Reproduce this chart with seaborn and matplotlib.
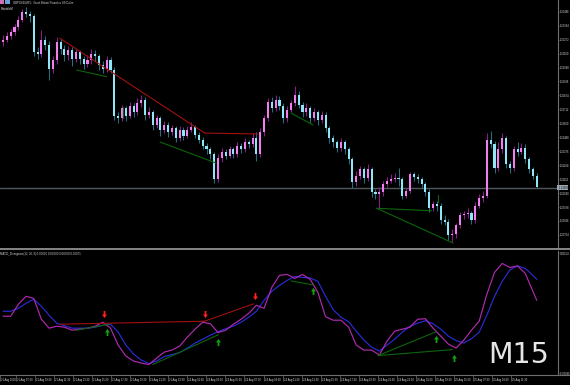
import numpy as np
import pandas as pd
import matplotlib
matplotlib.use("Agg")
import matplotlib.pyplot as plt
import matplotlib.transforms as mtrans
from matplotlib.patches import Rectangle
from matplotlib.lines import Line2D
import seaborn as sns

# ---------------- data ----------------
symbol_title = "GBPUSD,M15:  Great Britain Pound vs US Dollar"
ea_label = "MovableM"
indicator_title = "MACD_Divergence(12, 26, 9) 0.00000 0.00000 0.00000 0.00071"
timeframe_label = "M15"

first_open = 1.3225
closes = [1.3227, 1.3230, 1.3233, 1.3237, 1.3243, 1.3249, 1.3248, 1.3246, 1.3217, 1.3216,
          1.3227, 1.3223, 1.3204, 1.3211, 1.3225, 1.3220, 1.3215, 1.3219, 1.3212, 1.3217,
          1.3212, 1.3208, 1.3211, 1.3216, 1.3214, 1.3207, 1.3204, 1.3211, 1.3203, 1.3166,
          1.3164, 1.3172, 1.3166, 1.3174, 1.3169, 1.3176, 1.3179, 1.3167, 1.3169, 1.3159,
          1.3164, 1.3155, 1.3159, 1.3153, 1.3156, 1.3148, 1.3155, 1.3150, 1.3155, 1.3157,
          1.3151, 1.3147, 1.3142, 1.3139, 1.3135, 1.3115, 1.3132, 1.3137, 1.3134, 1.3139,
          1.3135, 1.3142, 1.3139, 1.3145, 1.3143, 1.3148, 1.3135, 1.3153, 1.3164, 1.3177,
          1.3172, 1.3179, 1.3174, 1.3164, 1.3171, 1.3176, 1.3183, 1.3175, 1.3169, 1.3172,
          1.3164, 1.3169, 1.3163, 1.3167, 1.3156, 1.3148, 1.3145, 1.3140, 1.3145, 1.3139,
          1.3131, 1.3113, 1.3118, 1.3123, 1.3116, 1.3123, 1.3105, 1.3103, 1.3105, 1.3111,
          1.3114, 1.3115, 1.3116, 1.3115, 1.3102, 1.3106, 1.3119, 1.3117, 1.3115, 1.3111,
          1.3105, 1.3092, 1.3095, 1.3094, 1.3082, 1.3081, 1.3070, 1.3071, 1.3078, 1.3086,
          1.3087, 1.3088, 1.3082, 1.3094, 1.3100, 1.3102, 1.3147, 1.3143, 1.3124, 1.3139,
          1.3148, 1.3127, 1.3124, 1.3139, 1.3137, 1.3140, 1.3131, 1.3123, 1.3118, 1.3109]
highs = [1.3231, 1.3233, 1.3236, 1.3240, 1.3246, 1.3252, 1.3253, 1.3250, 1.3248, 1.3221,
         1.3235, 1.3230, 1.3226, 1.3214, 1.3229, 1.3228, 1.3223, 1.3222, 1.3221, 1.3220,
         1.3219, 1.3214, 1.3215, 1.3220, 1.3219, 1.3216, 1.3210, 1.3214, 1.3213, 1.3205,
         1.3169, 1.3175, 1.3174, 1.3177, 1.3176, 1.3180, 1.3183, 1.3181, 1.3173, 1.3171,
         1.3167, 1.3166, 1.3162, 1.3161, 1.3159, 1.3158, 1.3158, 1.3157, 1.3158, 1.3161,
         1.3159, 1.3153, 1.3149, 1.3144, 1.3141, 1.3137, 1.3135, 1.3140, 1.3139, 1.3142,
         1.3141, 1.3145, 1.3144, 1.3148, 1.3147, 1.3152, 1.3153, 1.3156, 1.3167, 1.3180,
         1.3181, 1.3183, 1.3182, 1.3176, 1.3174, 1.3179, 1.3190, 1.3186, 1.3177, 1.3176,
         1.3174, 1.3172, 1.3171, 1.3170, 1.3169, 1.3158, 1.3151, 1.3147, 1.3148, 1.3147,
         1.3141, 1.3133, 1.3122, 1.3126, 1.3125, 1.3127, 1.3125, 1.3107, 1.3109, 1.3114,
         1.3117, 1.3119, 1.3120, 1.3124, 1.3117, 1.3108, 1.3121, 1.3121, 1.3119, 1.3117,
         1.3113, 1.3107, 1.3098, 1.3098, 1.3096, 1.3086, 1.3083, 1.3075, 1.3080, 1.3089,
         1.3090, 1.3092, 1.3090, 1.3097, 1.3103, 1.3106, 1.3152, 1.3154, 1.3146, 1.3145,
         1.3152, 1.3150, 1.3130, 1.3142, 1.3145, 1.3144, 1.3143, 1.3133, 1.3125, 1.3120]
lows = [1.3222, 1.3225, 1.3228, 1.3231, 1.3235, 1.3241, 1.3245, 1.3241, 1.3214, 1.3212,
        1.3213, 1.3219, 1.3195, 1.3200, 1.3208, 1.3216, 1.3210, 1.3211, 1.3206, 1.3209,
        1.3208, 1.3204, 1.3205, 1.3208, 1.3210, 1.3203, 1.3200, 1.3201, 1.3200, 1.3163,
        1.3160, 1.3162, 1.3162, 1.3164, 1.3165, 1.3167, 1.3173, 1.3163, 1.3164, 1.3155,
        1.3156, 1.3150, 1.3152, 1.3149, 1.3151, 1.3145, 1.3146, 1.3147, 1.3148, 1.3153,
        1.3148, 1.3144, 1.3139, 1.3135, 1.3131, 1.3112, 1.3113, 1.3129, 1.3131, 1.3132,
        1.3132, 1.3133, 1.3136, 1.3137, 1.3140, 1.3141, 1.3130, 1.3133, 1.3150, 1.3162,
        1.3169, 1.3170, 1.3171, 1.3160, 1.3161, 1.3169, 1.3174, 1.3172, 1.3165, 1.3166,
        1.3160, 1.3162, 1.3159, 1.3160, 1.3153, 1.3144, 1.3141, 1.3137, 1.3138, 1.3135,
        1.3127, 1.3108, 1.3110, 1.3115, 1.3112, 1.3114, 1.3101, 1.3099, 1.3092, 1.3102,
        1.3109, 1.3112, 1.3113, 1.3110, 1.3099, 1.3100, 1.3104, 1.3114, 1.3112, 1.3108,
        1.3102, 1.3089, 1.3090, 1.3090, 1.3079, 1.3078, 1.3066, 1.3065, 1.3068, 1.3076,
        1.3083, 1.3084, 1.3079, 1.3080, 1.3092, 1.3097, 1.3100, 1.3140, 1.3120, 1.3122,
        1.3136, 1.3124, 1.3120, 1.3122, 1.3134, 1.3135, 1.3128, 1.3120, 1.3115, 1.3108]

price_ticks = [1.32496, 1.32384, 1.32272, 1.32160, 1.32048, 1.31936, 1.31824, 1.31712,
               1.31600, 1.31488, 1.31376, 1.31264, 1.31152, 1.31040, 1.30928, 1.30816, 1.30704]
current_price = 1.31083

# price-chart trend lines: (bar, price) -> (bar, price)
price_red_lines = [((14.8, 1.32283), (52.5, 1.31522)), ((52.5, 1.31522), (66.4, 1.31514))]
price_green_lines = [((19.2, 1.32028), (27.0, 1.31974)),
                     ((31.25, 1.31731), (31.25, 1.31643)),
                     ((40.9, 1.31450), (55.5, 1.31281)),
                     ((75.0, 1.31683), (80.7, 1.31587)),
                     ((97.3, 1.30918), (111.6, 1.30898)),
                     ((97.3, 1.30918), (117.2, 1.30639)),
                     ((113.2, 1.31024), (113.2, 1.30968))]

macd_bars = list(range(0, 140, 2)) + [139]
macd_main = [0.00028, 0.00028, 0.00052, 0.00068, 0.00064, 0.00022, 0.00004, 0.00008, 0.00006, 0.00000,
             0.00002, 0.00004, 0.00008, 0.00016, 0.00004, -0.00030, -0.00052, -0.00062, -0.00066, -0.00069,
             -0.00056, -0.00044, -0.00040, -0.00032, -0.00014, 0.00002, 0.00016, 0.00013, -0.00005, 0.00000,
             0.00012, 0.00022, 0.00034, 0.00050, 0.00044, 0.00086, 0.00110, 0.00112, 0.00104, 0.00112,
             0.00102, 0.00076, 0.00027, 0.00020, 0.00020, 0.00006, -0.00030, -0.00040, -0.00040, -0.00050,
             -0.00022, -0.00002, 0.00002, 0.00006, 0.00022, 0.00023, 0.00004, -0.00012, -0.00028, -0.00036,
             -0.00020, 0.00000, 0.00018, 0.00072, 0.00116, 0.00134, 0.00126, 0.00129, 0.00114, 0.00078,
             0.00060]
macd_signal = [0.00038, 0.00038, 0.00044, 0.00054, 0.00062, 0.00048, 0.00030, 0.00014, 0.00009, 0.00004,
               0.00004, 0.00004, 0.00006, 0.00010, 0.00012, -0.00004, -0.00030, -0.00048, -0.00060, -0.00067,
               -0.00062, -0.00053, -0.00049, -0.00045, -0.00036, -0.00026, -0.00018, -0.00010, -0.00003, 0.00003,
               0.00008, 0.00016, 0.00026, 0.00038, 0.00060, 0.00078, 0.00090, 0.00100, 0.00108, 0.00106,
               0.00105, 0.00098, 0.00068, 0.00041, 0.00026, 0.00017, -0.00002, -0.00020, -0.00034, -0.00042,
               -0.00030, -0.00018, -0.00004, 0.00008, 0.00014, 0.00019, 0.00013, 0.00002, -0.00012, -0.00021,
               -0.00026, -0.00017, -0.00004, 0.00030, 0.00068, 0.00098, 0.00121, 0.00129, 0.00124, 0.00110,
               0.00102]

macd_red_lines = [((14.8, 0.00012), (52.5, 0.00018)), ((52.5, 0.00018), (65.3, 0.00053))]
macd_green_lines = [((19.1, 0.00000), (27.6, 0.00012)),
                    ((39.0, -0.00069), (56.1, -0.00009)),
                    ((75.0, 0.00099), (80.7, 0.00091)),
                    ((97.7, -0.00051), (112.8, -0.00003)),
                    ((97.7, -0.00051), (117.1, -0.00039))]
sell_arrow_bars = [26.2, 52.5, 65.5]
sell_arrow_vals = [0.00032, 0.00033, 0.00068]
buy_arrow_bars = [27.2, 56.1, 80.7, 112.8, 117.4]
buy_arrow_vals = [-0.00003, -0.00023, 0.00078, -0.00017, -0.00055]

macd_tick_vals = [0.00154, -0.00086]

time_labels = ["21 Aug 2020", "21 Aug 07:30", "21 Aug 09:30", "21 Aug 11:30", "21 Aug 13:30",
               "21 Aug 15:30", "21 Aug 17:30", "21 Aug 19:30", "21 Aug 21:30", "21 Aug 23:30",
               "24 Aug 01:30", "24 Aug 03:30", "24 Aug 05:30", "24 Aug 07:30", "24 Aug 09:30",
               "24 Aug 11:30", "24 Aug 13:30", "24 Aug 15:30", "24 Aug 17:30", "24 Aug 19:30",
               "24 Aug 21:30", "24 Aug 23:30", "25 Aug 01:30", "25 Aug 03:30", "25 Aug 05:30",
               "25 Aug 07:30", "25 Aug 09:30", "25 Aug 11:30"]

# ---------------- style ----------------
sns.set_theme(style="dark", rc={"axes.facecolor": "black", "figure.facecolor": "black",
                                "savefig.facecolor": "black"})
plt.rcParams["font.family"] = ["Liberation Sans", "DejaVu Sans"]

BULL_BODY, BEAR_BODY = "#f07ef0", "#8ee6f6"
BULL_WICK, BEAR_WICK = "#8a1c8a", "#1f6f80"
TXT = "#d8d8d8"
AXC = "#6e6e6e"
SMALL = 2.0
AXSMALL = 1.9

W, H = 570, 385
fig = plt.figure(figsize=(W / 100, H / 100), dpi=100)


def frac(x0, y0, x1, y1):
    return [x0 / W, 1 - y1 / H, (x1 - x0) / W, (y1 - y0) / H]


AX_RIGHT = 557.7
BAR0, BARW = 3.0, 3.84  # pixel of bar 0, pixels per bar


def px2bar(px):
    return (px - BAR0) / BARW


ax = fig.add_axes(frac(0, 0, AX_RIGHT, 248))
ax2 = fig.add_axes(frac(0, 250.5, AX_RIGHT, 375))
for a in (ax, ax2):
    a.set_facecolor("black")
    a.set_xlim(px2bar(0), px2bar(AX_RIGHT))
    for s in ("top", "left", "bottom"):
        a.spines[s].set_visible(False)
    a.spines["right"].set_visible(True)
    a.spines["right"].set_color(AXC)
    a.spines["right"].set_linewidth(0.8)
    a.grid(False)

# ---------------- candles ----------------
df = pd.DataFrame({"bar": np.arange(len(closes)), "close": closes, "high": highs, "low": lows})
df["open"] = [first_open] + closes[:-1]
bull = (df["close"] >= df["open"]).to_numpy()
ax.vlines(df["bar"], df["low"], df["high"], colors=np.where(bull, BULL_WICK, BEAR_WICK), lw=0.75, zorder=2)
body_h = (df["close"] - df["open"]).abs().clip(lower=0.00008)
ax.bar(df["bar"], body_h, bottom=df[["open", "close"]].min(axis=1), width=0.55,
       color=np.where(bull, BULL_BODY, BEAR_BODY), linewidth=0, zorder=3)

ax.set_ylim(1.30599, 1.32590)
ax.axhline(current_price, color="#50575c", lw=1.0, zorder=1)

for (x0, y0), (x1, y1) in price_red_lines:
    ax.plot([x0, x1], [y0, y1], color="#a01010", lw=0.8, zorder=4)
for (x0, y0), (x1, y1) in price_green_lines:
    ax.plot([x0, x1], [y0, y1], color="#0b650b", lw=0.8, zorder=4)

ax.yaxis.tick_right()
ax.set_yticks(price_ticks, [f"{p:.5f}" for p in price_ticks])
ax.tick_params(axis="y", length=1.0, width=0.5, colors=AXC, labelcolor=TXT, labelsize=AXSMALL, pad=0.3)
ax.tick_params(axis="x", bottom=False, labelbottom=False)

ax.text(1.0, current_price, f" {current_price:.5f}", transform=ax.get_yaxis_transform(),
        ha="left", va="center", fontsize=AXSMALL, color="#111111", clip_on=False,
        bbox=dict(boxstyle="square,pad=0.2", fc="#9aa7b2", ec="none"))

# ---------------- indicator ----------------
mdf = pd.DataFrame({"bar": macd_bars, "main": macd_main, "signal": macd_signal})
sns.lineplot(data=mdf, x="bar", y="signal", ax=ax2, color="#2b2bd6", lw=0.85, zorder=3)
sns.lineplot(data=mdf, x="bar", y="main", ax=ax2, color="#b02ab0", lw=0.85, zorder=4)
ax2.set_xlabel("")
ax2.set_ylabel("")
ax2.set_ylim(-0.0009, 0.0016)
ax2.set_xlim(px2bar(0), px2bar(AX_RIGHT))

for (x0, y0), (x1, y1) in macd_red_lines:
    ax2.plot([x0, x1], [y0, y1], color="#a01010", lw=0.8, zorder=5)
for (x0, y0), (x1, y1) in macd_green_lines:
    ax2.plot([x0, x1], [y0, y1], color="#0b650b", lw=0.8, zorder=5)

down_arrow = [(0, -1), (-0.7, 0), (-0.25, 0), (-0.25, 1), (0.25, 1), (0.25, 0), (0.7, 0), (0, -1)]
up_arrow = [(x, -y) for x, y in down_arrow]
ax2.scatter(sell_arrow_bars, sell_arrow_vals, marker=down_arrow, s=26, color="#ff2020", linewidths=0, zorder=6)
ax2.scatter(buy_arrow_bars, buy_arrow_vals, marker=up_arrow, s=26, color="#10a010", linewidths=0, zorder=6)

ax2.yaxis.tick_right()
ax2.set_yticks(macd_tick_vals, [f"{v:.5f}" for v in macd_tick_vals])
ax2.tick_params(axis="y", length=1.0, width=0.5, colors=AXC, labelcolor=TXT, labelsize=AXSMALL, pad=0.3)

tick_px = [0.3] + [16 + 19.04 * k for k in range(len(time_labels) - 1)]
ax2.set_xticks([px2bar(p) for p in tick_px], time_labels)
ax2.tick_params(axis="x", length=4.5, width=0.5, colors=AXC, labelcolor=TXT, labelsize=AXSMALL,
                pad=-2.2, direction="out", bottom=True)
shift = mtrans.ScaledTranslation(1.0 / 100, 0, fig.dpi_scale_trans)
for lbl in ax2.get_xticklabels():
    lbl.set_ha("left")
    lbl.set_transform(lbl.get_transform() + shift)

# ---------------- frame / texts ----------------
fig.add_artist(Line2D([0, 1], [1 - 249.3 / H] * 2, color="#9c9c9c", lw=1.2, transform=fig.transFigure))
fig.add_artist(Line2D([0, 1], [1 - 375 / H] * 2, color=AXC, lw=0.8, transform=fig.transFigure))

fig.patches.append(Rectangle((0, 1 - 4 / H), 4 / W, 4 / H, transform=fig.transFigure, fc="#d070b0", ec="none"))
fig.patches.append(Rectangle((5 / W, 1 - 4 / H), 5 / W, 4 / H, transform=fig.transFigure, fc="#6aa0d8", ec="none"))
fig.text(13 / W, 1 - 2.2 / H, symbol_title, fontsize=SMALL, color=TXT, va="center", ha="left")
fig.text(0.5 / W, 1 - 8.5 / H, ea_label, fontsize=SMALL, color=TXT, va="center", ha="left")
fig.text(0.5 / W, 1 - 254 / H, indicator_title, fontsize=SMALL, color=TXT, va="center", ha="left")
fig.text(488 / W, 1 - 355 / H, timeframe_label, fontsize=20.5, color="#e6e6e6", va="center", ha="left",
         family="DejaVu Sans")

fig.savefig("out.png", dpi=100, facecolor="black")
